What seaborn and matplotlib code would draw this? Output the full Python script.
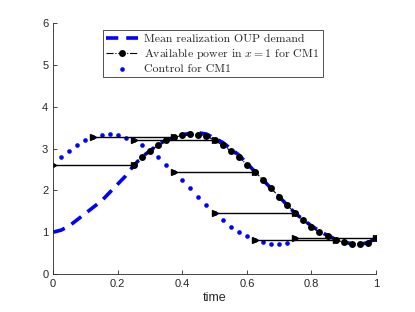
import numpy as np
import pandas as pd
import seaborn as sns
import matplotlib.pyplot as plt

# time grid, step 0.025
t_demand = [i * 0.025 for i in range(41)]
demand = [1.00, 1.05, 1.15, 1.30, 1.45, 1.60, 1.75, 1.95, 2.15, 2.35,
          2.60, 2.80, 2.95, 3.10, 3.20, 3.27, 3.33, 3.37, 3.38, 3.35,
          3.25, 3.15, 3.00, 2.85, 2.65, 2.45, 2.25, 2.05, 1.85, 1.65,
          1.45, 1.30, 1.15, 1.03, 0.92, 0.83, 0.77, 0.72, 0.71, 0.75, 0.85]

t_control = [i * 0.025 for i in range(31)]
control = [2.62, 2.80, 2.95, 3.08, 3.20, 3.27, 3.32, 3.34, 3.33, 3.26,
           3.20, 3.08, 2.95, 2.80, 2.62, 2.45, 2.25, 2.05, 1.85, 1.65,
           1.45, 1.28, 1.13, 1.00, 0.90, 0.82, 0.76, 0.72, 0.72, 0.75, 0.85]

t_power = [0.25 + i * 0.025 for i in range(31)]
power = [2.62, 2.80, 2.95, 3.08, 3.20, 3.27, 3.32, 3.34, 3.33, 3.30,
         3.20, 3.08, 2.95, 2.80, 2.62, 2.45, 2.25, 2.05, 1.85, 1.65,
         1.45, 1.28, 1.13, 1.00, 0.90, 0.82, 0.76, 0.72, 0.72, 0.75, 0.85]

# delay arrows: start time, length, level
arrow_start = [0.0, 0.125, 0.25, 0.375, 0.5, 0.625, 0.75]
arrow_level = [2.62, 3.27, 3.20, 2.45, 1.45, 0.82, 0.85]
delay = 0.25

sns.set_style("ticks")
plt.rcParams['font.family'] = ['Liberation Sans', 'DejaVu Sans']
plt.rcParams['mathtext.fontset'] = 'cm'
plt.rcParams['path.simplify'] = False
plt.rcParams['lines.dash_capstyle'] = 'butt'

fig = plt.figure(figsize=(4.15, 3.12), dpi=100)
ax = fig.add_axes([0.128, 0.122, 0.778, 0.803])

sns.lineplot(x=t_demand, y=demand, ax=ax, color='blue', linewidth=2.6,
             linestyle=(0, (3.4, 2.2)), label='Mean realization OUP demand')
sns.lineplot(x=t_power, y=power, ax=ax, color='black', linewidth=0.8,
             linestyle='-.', marker='o', markersize=5, markeredgewidth=0,
             label='Available power in $x=1$ for CM1')
sns.scatterplot(x=t_control, y=control, ax=ax, color='blue', s=11,
                linewidth=0, label='Control for CM1')

for x0, lev in zip(arrow_start, arrow_level):
    ax.plot([x0, x0 + delay], [lev, lev], color='black', linewidth=1,
            marker='>', markersize=5)

ax.set_xlim(0, 1)
ax.set_ylim(0, 6)
ax.set_xticks([0, 0.2, 0.4, 0.6, 0.8, 1])
ax.set_xticklabels(['0', '0.2', '0.4', '0.6', '0.8', '1'])
ax.set_yticks(range(7))
ax.tick_params(direction='in', length=3, labelsize=8, colors='#262626',
               width=0.6)
for s in ['left', 'bottom']:
    ax.spines[s].set_color('#262626')
    ax.spines[s].set_linewidth(0.6)
sns.despine(ax=ax)
ax.set_xlabel('time', fontsize=9, color='#262626', labelpad=2)

leg = ax.legend(loc='upper center', bbox_to_anchor=(0.495, 0.974),
                prop={'family': 'cmr10', 'size': 8.5}, frameon=True,
                fancybox=False, edgecolor='black', handlelength=2.7,
                borderpad=0.3, labelspacing=0.2, handletextpad=0.5,
                borderaxespad=0)
leg.get_frame().set_linewidth(0.6)

fig.savefig('out.png', dpi=100)
